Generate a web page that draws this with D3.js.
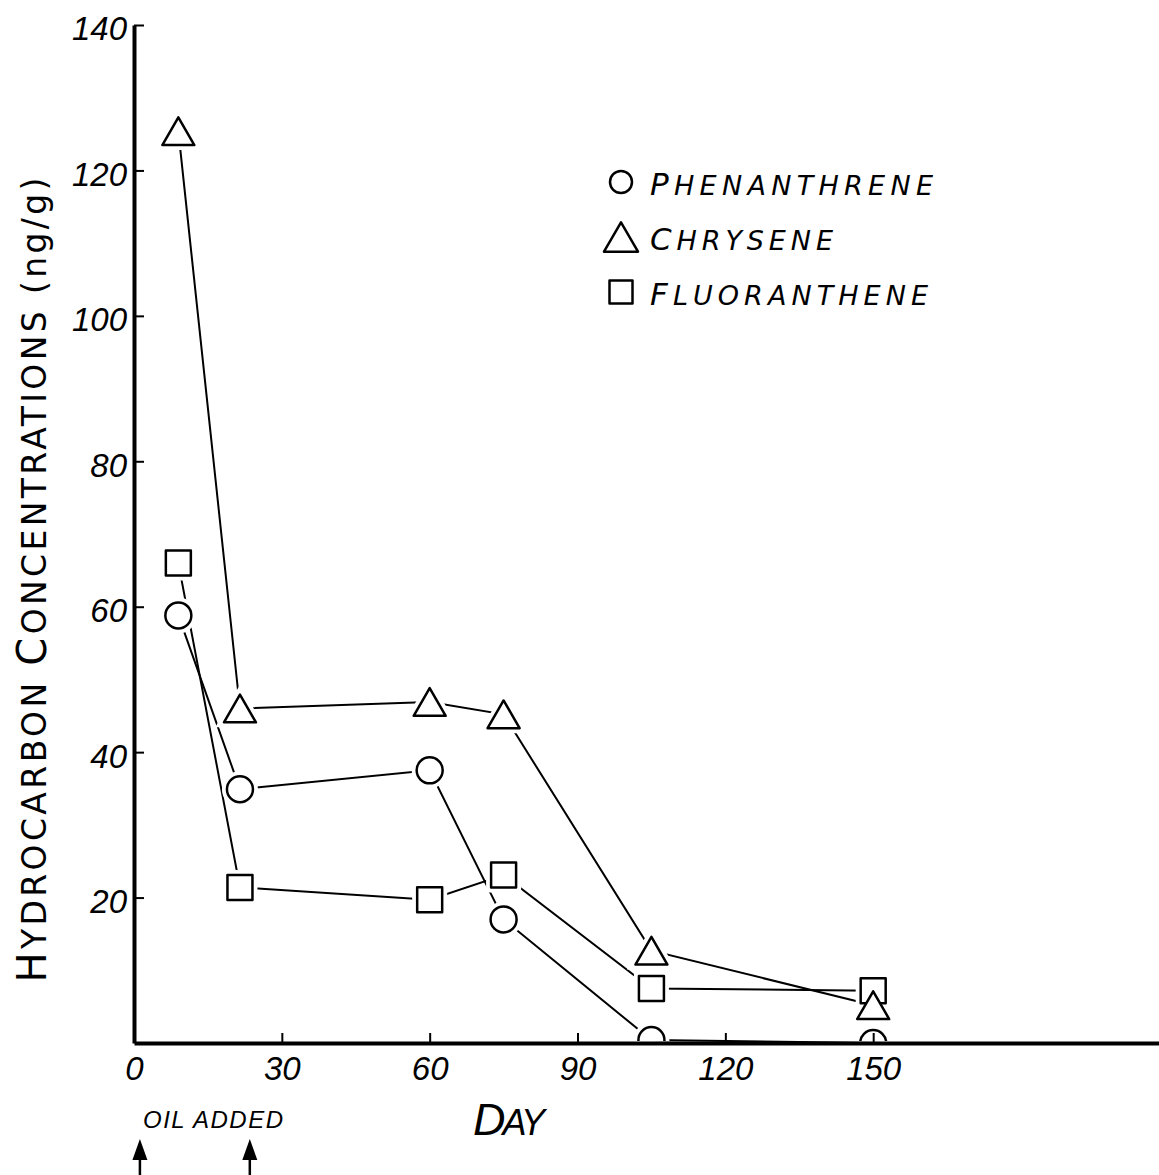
<!DOCTYPE html>
<html>
<head>
<meta charset="utf-8">
<script src="https://cdn.jsdelivr.net/npm/d3@7"></script>
<style>
body { margin: 0; background: #fff; }
svg { display: block; }
text { font-family: "Liberation Sans", Arial, sans-serif; font-style: italic; fill: #000; }
.wide { font-family: "DejaVu Sans", sans-serif; }
</style>
</head>
<body>
<svg id="chart" width="1159" height="1175"></svg>
<script>
// values
const days = [9, 21.5, 60, 75, 105, 150]
const phenanthrene = [58.8, 34.9, 37.5, 17.0, 0.4, 0]
const chrysene = [125.4, 46.0, 46.9, 45.2, 12.7, 5.2]
const fluoranthene = [66.0, 21.4, 19.7, 23.1, 7.5, 7.2]

const xTicks = [0, 30, 60, 90, 120, 150]
const yTicks = [20, 40, 60, 80, 100, 120, 140]
const oilAddedDays = [1.2, 23.5]

const width = 1159
const height = 1175

const svg = d3.select('#chart')
svg.append('rect').attr('width', width).attr('height', height).attr('fill', '#fff')

const x = d3.scaleLinear().domain([0, 208]).range([134, 1159])
const y = d3.scaleLinear().domain([0, 140]).range([1043, 25])

svg.append('defs').append('clipPath').attr('id', 'plot-clip')
    .append('rect')
    .attr('x', 0).attr('y', 0)
    .attr('width', width).attr('height', y(0) - 2)

const triH = 32 * Math.sqrt(3) / 2
const series = [
    { name: 'PHENANTHRENE', values: phenanthrene, type: d3.symbolCircle, size: Math.PI * 13 * 13, dy: 0, order: 1 },
    { name: 'CHRYSENE', values: chrysene, type: d3.symbolTriangle, size: Math.sqrt(3) / 4 * 32 * 32, dy: triH / 6, order: 2 },
    { name: 'FLUORANTHENE', values: fluoranthene, type: d3.symbolSquare, size: 25 * 25, dy: 0, order: 0 }
]

// lines
const line = d3.line()
    .x((d, i) => x(days[i]))
    .y(d => y(d))

svg.append('g')
    .selectAll('path')
    .data(series)
    .join('path')
    .attr('d', s => line(s.values))
    .attr('fill', 'none')
    .attr('stroke', '#000')
    .attr('stroke-width', 2)

// markers: white halos first so lines stop short of the symbols
const points = []
series.slice().sort((a, b) => a.order - b.order).forEach(s => {
    s.values.forEach((v, i) => points.push({ s: s, day: days[i], value: v }))
})

const markers = svg.append('g').attr('clip-path', 'url(#plot-clip)')

markers.append('g')
    .selectAll('path')
    .data(points)
    .join('path')
    .attr('d', p => d3.symbol().type(p.s.type).size(p.s.size)())
    .attr('transform', p => 'translate(' + x(p.day) + ',' + (y(p.value) + p.s.dy) + ')')
    .attr('fill', '#fff')
    .attr('stroke', '#fff')
    .attr('stroke-width', 10)

markers.append('g')
    .selectAll('path')
    .data(points)
    .join('path')
    .attr('d', p => d3.symbol().type(p.s.type).size(p.s.size)())
    .attr('transform', p => 'translate(' + x(p.day) + ',' + (y(p.value) + p.s.dy) + ')')
    .attr('fill', '#fff')
    .attr('stroke', '#000')
    .attr('stroke-width', 2.5)
    .attr('stroke-linejoin', 'round')

// axes
const xAxis = svg.append('g')
    .attr('transform', 'translate(0,' + y(0) + ')')
    .call(d3.axisBottom(x).tickValues(xTicks).tickSize(-10).tickSizeOuter(0).tickPadding(14))
xAxis.attr('font-family', null).attr('font-size', 33)
xAxis.select('.domain').attr('stroke-width', 4)
xAxis.selectAll('.tick line').attr('stroke-width', 2)

const yAxis = svg.append('g')
    .attr('transform', 'translate(' + x(0) + ',0)')
    .call(d3.axisLeft(y).tickValues(yTicks).tickSize(-10).tickSizeOuter(0).tickPadding(7))
yAxis.attr('font-family', null).attr('font-size', 33)
yAxis.select('.domain').attr('stroke-width', 4)
yAxis.selectAll('.tick line').attr('stroke-width', 2)
yAxis.selectAll('.tick text').attr('dy', '0.45em')

// axis titles
const yTitle = svg.append('text')
    .attr('class', 'wide')
    .attr('transform', 'translate(46,580) rotate(-90)')
    .attr('text-anchor', 'middle')
    .attr('textLength', 805)
    .attr('lengthAdjust', 'spacing')
    .style('font-style', 'normal')
yTitle.append('tspan').attr('font-size', 40).text('H')
yTitle.append('tspan').attr('font-size', 33).text('YDROCARBON ')
yTitle.append('tspan').attr('font-size', 40).text('C')
yTitle.append('tspan').attr('font-size', 33).text('ONCENTRATIONS (ng/g)')

const xTitle = svg.append('text')
    .attr('x', 473).attr('y', 1135)
    .attr('textLength', 72)
    .attr('lengthAdjust', 'spacing')
xTitle.append('tspan').attr('font-size', 45).text('D')
xTitle.append('tspan').attr('font-size', 36).text('AY')

// legend
const legendWidths = [283, 183, 278]
const legend = svg.append('g')
    .selectAll('g')
    .data(series)
    .join('g')
    .attr('transform', (s, i) => 'translate(621,' + (182 + i * 55) + ')')

legend.append('path')
    .attr('d', s => {
        const scale = s.type === d3.symbolTriangle ? (34 / 32) * (34 / 32) : (s.type === d3.symbolCircle ? (11 / 13) * (11 / 13) : (23 / 25) * (23 / 25))
        return d3.symbol().type(s.type).size(s.size * scale)()
    })
    .attr('transform', s => 'translate(0,' + (s.dy * 34 / 32) + ')')
    .attr('fill', '#fff')
    .attr('stroke', '#000')
    .attr('stroke-width', 2.5)
    .attr('stroke-linejoin', 'round')

const legendText = legend.append('text')
    .attr('class', 'wide')
    .attr('x', 29)
    .attr('y', 13)
    .attr('textLength', (s, i) => legendWidths[i])
    .attr('lengthAdjust', 'spacing')
legendText.append('tspan').attr('font-size', 31).text(s => s.name[0])
legendText.append('tspan').attr('font-size', 27).text(s => s.name.slice(1))

// oil added note with arrows
svg.append('text')
    .attr('x', 143).attr('y', 1128)
    .attr('font-size', 24)
    .attr('textLength', 140)
    .attr('lengthAdjust', 'spacing')
    .text('OIL ADDED')

const arrows = svg.append('g')
    .selectAll('g')
    .data(oilAddedDays)
    .join('g')
    .attr('transform', d => 'translate(' + x(d) + ',0)')
arrows.append('path')
    .attr('d', 'M0,1139L-7.5,1160L7.5,1160Z')
    .attr('fill', '#000')
arrows.append('line')
    .attr('y1', 1155).attr('y2', 1175)
    .attr('stroke', '#000')
    .attr('stroke-width', 2.5)
</script>
</body>
</html>
